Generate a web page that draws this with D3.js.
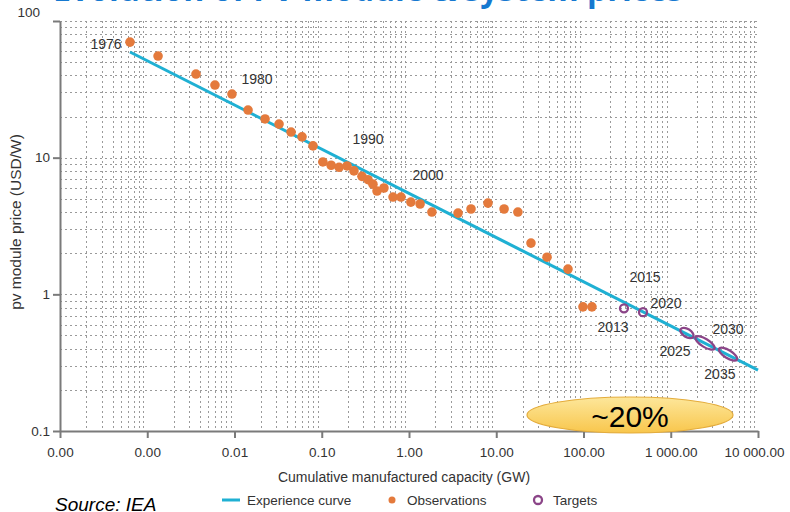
<!DOCTYPE html>
<html>
<head>
<meta charset="utf-8">
<script src="https://cdn.jsdelivr.net/npm/d3@7"></script>
<style>
  body { margin: 0; background: #fff; }
  svg { display: block; }
</style>
</head>
<body>
<div id="chart"></div>
<script>
// Observations: cumulative manufactured capacity (GW) and pv module price (USD/W)
const obsCapacity = [0.000634, 0.00133, 0.00362, 0.00597, 0.00935, 0.0143, 0.0224, 0.0324, 0.0445, 0.0594,
  0.0794, 0.103, 0.128, 0.158, 0.195, 0.234, 0.289, 0.339, 0.386, 0.43, 0.516, 0.656, 0.809, 1.05, 1.34,
  1.83, 3.65, 5.14, 8.04, 12.3, 17.7, 25.0, 38.2, 66.4, 98.6, 125];
const obsPrice = [70.1, 55.4, 40.9, 34.0, 29.2, 22.3, 19.2, 17.6, 15.4, 14.2,
  12.2, 9.3, 8.8, 8.5, 8.7, 8.0, 7.3, 6.9, 6.4, 5.7, 6.0, 5.15, 5.15, 4.73, 4.58,
  4.0, 3.93, 4.21, 4.65, 4.21, 4.0, 2.37, 1.87, 1.53, 0.81, 0.81];

// Experience curve (~20% learning rate)
const curveCapacity = [0.000634, 10000];
const curvePrice = [59.3, 0.279];

// Targets: capacity and price ranges
const targetYears = ["2013", "2020", "2025", "2030", "2035"];
const targetCapLow = [291, 481, 1422, 2108, 3918];
const targetCapHigh = [291, 481, 1656, 2893, 5240];
const targetPriceHigh = [0.79, 0.74, 0.537, 0.469, 0.387];
const targetPriceLow = [0.79, 0.74, 0.506, 0.414, 0.345];

// Year annotations (anchored in data space)
const yearLabels = ["1976", "1980", "1990", "2000", "2015", "2020", "2013", "2025", "2030", "2035"];
const yearLabelCapacity = [0.000337, 0.0181, 0.339, 1.65, 507, 883, 218, 1120, 4530, 3660];
const yearLabelPrice = [62.3, 34.5, 12.6, 6.86, 1.23, 0.794, 0.53, 0.354, 0.513, 0.24];

// Axis ticks
const xTicks = [0.0001, 0.001, 0.01, 0.1, 1, 10, 100, 1000, 10000];
const yTicks = [0.1, 1, 10, 100];

const width = 790;
const height = 512;
const FONT = "'Liberation Sans', Arial, sans-serif";
const TEXT = "#333";

const svg = d3.select("#chart")
  .append("svg")
  .attr("width", width)
  .attr("height", height);

const x = d3.scaleLog().domain([0.0001, 10000]).range([60, 758]);
const y = d3.scaleLog().domain([0.1, 100]).range([431, 21]);

// Cut-off title at the top of the slide
svg.append("text")
  .attr("x", 53)
  .attr("y", 1)
  .attr("textLength", 630)
  .attr("lengthAdjust", "spacingAndGlyphs")
  .style("font-family", "'Open Sans', sans-serif")
  .style("font-weight", "bold")
  .style("font-size", "34px")
  .style("fill", "#1679d0")
  .text("Evolution of PV module & system prices");

// Minor grid values (2..9 per decade)
const minorX = [];
for (let e = -4; e < 4; e++) {
  for (let m = 2; m <= 9; m++) minorX.push(m * Math.pow(10, e));
}
const gridY = [];
for (let e = -1; e < 2; e++) {
  for (let m = 1; m <= 9; m++) if (!(e === -1 && m === 1)) gridY.push(m * Math.pow(10, e));
}
gridY.push(100);

const grid = svg.append("g")
  .attr("stroke", "#9a9a9a")
  .attr("stroke-width", 1)
  .attr("stroke-dasharray", "2,3");

grid.selectAll("line.v")
  .data(minorX)
  .join("line")
  .attr("class", "v")
  .attr("x1", (d) => Math.round(x(d)) + 0.5)
  .attr("x2", (d) => Math.round(x(d)) + 0.5)
  .attr("y1", y(100))
  .attr("y2", y(0.1));

grid.selectAll("line.h")
  .data(gridY)
  .join("line")
  .attr("class", "h")
  .attr("x1", x(0.0001))
  .attr("x2", x(10000))
  .attr("y1", (d) => Math.round(y(d)) + 0.5)
  .attr("y2", (d) => Math.round(y(d)) + 0.5);

// Axes
const fmt = d3.formatLocale({ decimal: ".", thousands: " ", grouping: [3], currency: ["", ""] }).format(",.2f");

const xAxis = svg.append("g")
  .attr("transform", `translate(0, ${y(0.1)})`)
  .call(d3.axisBottom(x).tickValues(xTicks).tickFormat(fmt).tickSize(7).tickSizeOuter(0));

const yAxis = svg.append("g")
  .attr("transform", `translate(${x(0.0001)}, 0)`)
  .call(d3.axisLeft(y).tickValues(yTicks).tickFormat(d3.format("~g")).tickSize(7).tickSizeOuter(0));

[xAxis, yAxis].forEach((a) => {
  a.select(".domain").attr("stroke", "#7a7a7a").attr("stroke-width", 2);
  a.selectAll(".tick line").attr("stroke", "#7a7a7a").attr("stroke-width", 2);
  a.selectAll(".tick text")
    .style("font-family", FONT)
    .style("font-size", "13.5px")
    .style("fill", TEXT);
});
xAxis.selectAll(".tick text").attr("dy", "1.2em");
xAxis.selectAll(".tick text").filter((d) => d === 10000).attr("dx", "-0.3em");
yAxis.selectAll(".tick text").attr("x", -10);
// the "100" label sits above its tick in the original
yAxis.selectAll(".tick text").filter((d) => d === 100).attr("x", -20).attr("dy", "-0.35em");

// Axis titles
svg.append("text")
  .attr("x", 404)
  .attr("y", 482)
  .attr("text-anchor", "middle")
  .style("font-family", FONT)
  .style("font-size", "14px")
  .style("fill", TEXT)
  .text("Cumulative manufactured capacity (GW)");

svg.append("text")
  .attr("transform", "translate(21, 222) rotate(-90)")
  .attr("text-anchor", "middle")
  .style("font-family", FONT)
  .style("font-size", "15.5px")
  .style("fill", TEXT)
  .text("pv module price (USD/W)");

// Experience curve
const curve = curveCapacity.map((c, i) => [c, curvePrice[i]]);
svg.append("path")
  .datum(curve)
  .attr("fill", "none")
  .attr("stroke", "#1fb0d3")
  .attr("stroke-width", 3)
  .attr("d", d3.line().x((d) => x(d[0])).y((d) => y(d[1])));

// Observations
svg.append("g")
  .selectAll("circle")
  .data(obsCapacity.map((c, i) => [c, obsPrice[i]]))
  .join("circle")
  .attr("cx", (d) => x(d[0]))
  .attr("cy", (d) => y(d[1]))
  .attr("r", 4.8)
  .attr("fill", "#e47a3c");

// Targets as ellipses spanning their ranges
const targets = targetYears.map((t, i) => {
  const x1 = x(targetCapLow[i]), y1 = y(targetPriceHigh[i]);
  const x2 = x(targetCapHigh[i]), y2 = y(targetPriceLow[i]);
  return {
    year: t,
    cx: (x1 + x2) / 2,
    cy: (y1 + y2) / 2,
    half: Math.hypot(x2 - x1, y2 - y1) / 2,
    angle: Math.atan2(y2 - y1, x2 - x1) * 180 / Math.PI,
  };
});

svg.append("g")
  .selectAll("ellipse")
  .data(targets)
  .join("ellipse")
  .attr("cx", (d) => d.cx)
  .attr("cy", (d) => d.cy)
  .attr("rx", (d) => d.half + 4)
  .attr("ry", 4)
  .attr("transform", (d) => `rotate(${d.angle}, ${d.cx}, ${d.cy})`)
  .attr("fill", "none")
  .attr("stroke", "#8b4588")
  .attr("stroke-width", 2.3);

// Year labels
svg.append("g")
  .selectAll("text")
  .data(yearLabels.map((t, i) => ({ t, c: yearLabelCapacity[i], p: yearLabelPrice[i] })))
  .join("text")
  .attr("x", (d) => x(d.c))
  .attr("y", (d) => y(d.p))
  .attr("text-anchor", "middle")
  .style("font-family", FONT)
  .style("font-size", "14px")
  .style("fill", TEXT)
  .text((d) => d.t);

// "~20%" callout
const defs = svg.append("defs");
const grad = defs.append("linearGradient")
  .attr("id", "gold")
  .attr("x1", 0).attr("y1", 0).attr("x2", 0).attr("y2", 1);
grad.append("stop").attr("offset", "0%").attr("stop-color", "#fde79b");
grad.append("stop").attr("offset", "100%").attr("stop-color", "#f8c64c");

svg.append("ellipse")
  .attr("cx", 630)
  .attr("cy", 415)
  .attr("rx", 103)
  .attr("ry", 18)
  .attr("fill", "url(#gold)")
  .attr("stroke", "#e4ac3c")
  .attr("stroke-width", 1.2);

svg.append("text")
  .attr("x", 630)
  .attr("y", 427)
  .attr("text-anchor", "middle")
  .style("font-family", FONT)
  .style("font-size", "30px")
  .style("fill", "#000")
  .text("~20%");

// Legend
const legend = svg.append("g").attr("transform", "translate(0, 500)");

legend.append("line")
  .attr("x1", 222).attr("x2", 240)
  .attr("y1", 0).attr("y2", 0)
  .attr("stroke", "#1fb0d3")
  .attr("stroke-width", 3);
legend.append("circle")
  .attr("cx", 392).attr("cy", 0).attr("r", 3.5)
  .attr("fill", "#e47a3c");
legend.append("circle")
  .attr("cx", 538).attr("cy", 0).attr("r", 4)
  .attr("fill", "none")
  .attr("stroke", "#8b4588")
  .attr("stroke-width", 2.3);

legend.selectAll("text")
  .data([["Experience curve", 247], ["Observations", 407], ["Targets", 553]])
  .join("text")
  .attr("x", (d) => d[1])
  .attr("y", 5)
  .style("font-family", FONT)
  .style("font-size", "13.5px")
  .style("fill", TEXT)
  .text((d) => d[0]);

// Source note
svg.append("text")
  .attr("x", 55)
  .attr("y", 511)
  .style("font-family", FONT)
  .style("font-style", "italic")
  .style("font-size", "19px")
  .style("fill", "#000")
  .text("Source: IEA");
</script>
</body>
</html>
